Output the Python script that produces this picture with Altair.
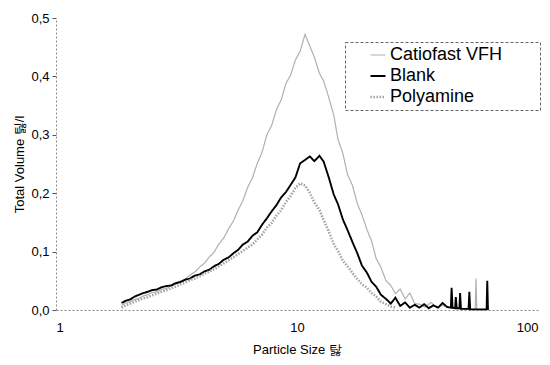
import altair as alt
import pandas as pd

series_names = ["Catiofast VFH", "Blank", "Polyamine"]

sizes_common = [1.87, 1.95, 2.03, 2.12, 2.21, 2.3, 2.4, 2.5, 2.62, 2.74, 2.87, 3.0, 3.14, 3.29,
                3.44, 3.6, 3.77, 3.95, 4.13, 4.33, 4.53, 4.74, 4.96, 5.2, 5.44, 5.7, 5.96, 6.24,
                6.53, 6.84, 7.16, 7.5, 7.85, 8.2, 8.6, 9.0, 9.4, 9.85, 10.3, 10.8, 11.3, 11.8,
                12.4, 12.9, 13.5, 14.2, 14.8, 15.5, 16.2, 17.0, 17.8, 18.6, 19.5, 20.4, 21.3,
                22.3, 23.4, 24.5, 25.6, 26.8, 28.1, 29.4, 30.8]

catio_tail_sizes = [32.2, 34.0, 36.0, 38.0, 40.0, 44.0, 48.0, 54.9, 55.3, 55.7, 60.0]
catio_values = [0.008, 0.012, 0.014, 0.018, 0.020, 0.024, 0.026, 0.030, 0.031, 0.035, 0.037,
                0.041, 0.044, 0.050, 0.053, 0.060, 0.065, 0.074, 0.080, 0.091, 0.099, 0.113,
                0.123, 0.139, 0.152, 0.171, 0.187, 0.210, 0.226, 0.251, 0.270, 0.300, 0.316,
                0.342, 0.360, 0.388, 0.402, 0.428, 0.443, 0.472, 0.452, 0.433, 0.405, 0.392,
                0.366, 0.334, 0.292, 0.268, 0.232, 0.213, 0.182, 0.163, 0.138, 0.118, 0.088,
                0.073, 0.050, 0.042, 0.028, 0.036, 0.019, 0.029, 0.011,
                0.010, 0.005, 0.013, 0.004, 0.008, 0.003, 0.002, 0.001, 0.054, 0.001, 0.0]

blank_tail_sizes = [32.2, 33.7, 35.2, 36.8, 38.5, 40.2, 42.0, 43.5, 43.8, 44.2, 45.3, 45.6, 46.0,
                    47.2, 47.5, 47.9, 51.5, 51.9, 52.3, 61.2, 61.6, 62.0]
blank_values = [0.012, 0.016, 0.018, 0.023, 0.026, 0.029, 0.031, 0.034, 0.035, 0.039, 0.041,
                0.042, 0.046, 0.048, 0.052, 0.054, 0.059, 0.061, 0.066, 0.069, 0.075, 0.079,
                0.086, 0.090, 0.097, 0.103, 0.112, 0.117, 0.127, 0.133, 0.146, 0.157, 0.169,
                0.179, 0.193, 0.202, 0.214, 0.227, 0.251, 0.257, 0.263, 0.255, 0.264, 0.254,
                0.229, 0.198, 0.181, 0.155, 0.137, 0.116, 0.097, 0.076, 0.064, 0.048, 0.040,
                0.026, 0.019, 0.011, 0.021, 0.007, 0.013, 0.004, 0.009,
                0.004, 0.010, 0.003, 0.008, 0.004, 0.012, 0.005, 0.004, 0.038, 0.004, 0.003,
                0.022, 0.003, 0.003, 0.029, 0.002, 0.002, 0.031, 0.001, 0.001, 0.050, 0.0]

poly_sizes = sizes_common[:59]
poly_values = [0.004, 0.008, 0.011, 0.014, 0.017, 0.020, 0.022, 0.025, 0.028, 0.031, 0.034,
               0.037, 0.040, 0.044, 0.047, 0.051, 0.054, 0.058, 0.062, 0.066, 0.070, 0.075,
               0.080, 0.085, 0.090, 0.096, 0.101, 0.107, 0.112, 0.121, 0.129, 0.141, 0.149,
               0.161, 0.171, 0.185, 0.195, 0.209, 0.217, 0.213, 0.201, 0.184, 0.171, 0.154,
               0.136, 0.113, 0.101, 0.084, 0.075, 0.063, 0.053, 0.044, 0.038, 0.029, 0.023,
               0.014, 0.010, 0.006, 0.004]

rows = []
for s, v in zip(sizes_common + catio_tail_sizes, catio_values):
    rows.append({"series": series_names[0], "size": s, "volume": v, "order": len(rows)})
for s, v in zip(sizes_common + blank_tail_sizes, blank_values):
    rows.append({"series": series_names[1], "size": s, "volume": v, "order": len(rows)})
for s, v in zip(poly_sizes, poly_values):
    rows.append({"series": series_names[2], "size": s, "volume": v, "order": len(rows)})
df = pd.DataFrame(rows)

font = "Liberation Sans"

chart = alt.Chart(df).mark_line(interpolate="linear").encode(
    x=alt.X("size:Q", scale=alt.Scale(type="log", domain=[1, 100]),
            axis=alt.Axis(title="Particle Size 탏", values=[1, 10, 100], format="d",
                          ticks=False, grid=False, domainColor="#888888",
                          domainDash=[2, 2], labelPadding=11, titlePadding=9)),
    y=alt.Y("volume:Q", scale=alt.Scale(domain=[0, 0.5]),
            axis=alt.Axis(title="Total Volume 틿/l", values=[0, 0.1, 0.2, 0.3, 0.4, 0.5],
                          labelExpr="replace(format(datum.value, '.1f'), '.', ',')",
                          grid=False, domainColor="#888888", domainDash=[2, 2],
                          tickSize=4, tickColor="#555555", labelPadding=3,
                          titlePadding=4)),
    color=alt.Color("series:N", scale=alt.Scale(domain=series_names,
                                                 range=["#b0b0b0", "#000000", "#a4a4a4"]),
                    legend=alt.Legend(title=None, orient="none", legendX=289, legendY=24,
                                      symbolType="stroke", symbolSize=225, symbolOffset=20,
                                      labelFontSize=18, labelFont=font, labelColor="#000000",
                                      labelOffset=3, labelLimit=300,
                                      labelExpr="datum.label + '\u00a0\u00a0\u00a0\u00a0\u2800'",
                                      padding=4, rowPadding=3, strokeColor="#666666",
                                      fillColor="#ffffff")),
    strokeWidth=alt.StrokeWidth("series:N", scale=alt.Scale(domain=series_names,
                                                             range=[1.2, 2.6, 1.4]),
                                legend=None),
    strokeDash=alt.StrokeDash("series:N", scale=alt.Scale(domain=series_names,
                                                           range=[[1, 0], [1, 0], [1.5, 1.5]]),
                              legend=None),
    order="order:Q",
    detail="series:N",
).properties(
    width=482, height=292,
    autosize=alt.AutoSizeParams(type="none"),
    padding={"left": 48, "top": 10, "right": 4, "bottom": 52},
).configure_view(stroke=None).configure_axis(
    labelFont=font, titleFont=font, labelFontSize=13, titleFontSize=13,
    titleFontWeight="normal", labelColor="#000000", titleColor="#000000",
).configure_legend(strokeDash=[3, 2])

chart.save("out.html", embed_options={"renderer": "svg", "actions": False})
